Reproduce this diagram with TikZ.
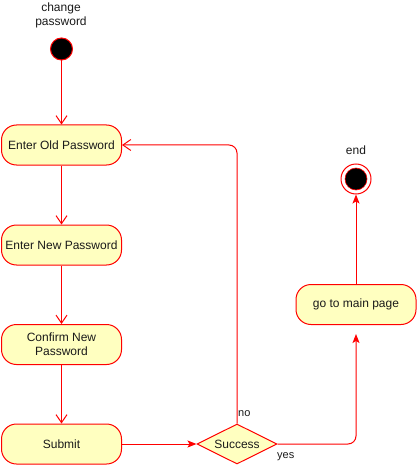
\documentclass[tikz,border=0pt]{standalone}
\usepackage{fontspec}
\setmainfont{Liberation Sans}
\usetikzlibrary{arrows.meta,shapes.geometric}
\definecolor{actfill}{HTML}{FFFFC0}
\definecolor{txt}{HTML}{1A1A1A}
\tikzset{
  act/.style={draw=red, fill=actfill, rounded corners=15pt, minimum width=120pt, minimum height=40pt, inner sep=2pt, align=center, font=\fontsize{12pt}{14pt}\selectfont, text=txt, line width=1pt},
  dec/.style={draw=red, fill=actfill, diamond, aspect=2, minimum width=80pt, minimum height=40pt, inner sep=0pt, font=\fontsize{12pt}{14pt}\selectfont, text=txt, line width=1pt},
  startdot/.style={circle, draw=red, fill=black, minimum size=22pt, inner sep=0pt, line width=1pt},
  lbl/.style={font=\fontsize{12pt}{14pt}\selectfont, text=txt, align=center, inner sep=0pt},
  sml/.style={font=\fontsize{11pt}{13pt}\selectfont, text=txt, inner sep=0pt},
  openflow/.style={draw=red, line width=1pt, -{Straight Barb[length=8pt,width=11pt]}},
  fillflow/.style={draw=red, line width=1pt, -{Stealth[length=9pt,width=7pt,inset=2pt]}},
}
\begin{document}
\begin{tikzpicture}[x=1pt,y=-1pt]
\useasboundingbox (0,0) rectangle (417,465);
\node[lbl] (title) at (61,15) {change\\password};
\node[startdot] (start) at (61.5,49) {};
\node[act] (old) at (61.5,145) {Enter Old Password};
\node[act] (new) at (61.5,245) {Enter New Password};
\node[act] (conf) at (61.5,344.5) {Confirm New\\Password};
\node[act] (sub) at (61.5,444) {Submit};
\node[dec] (succ) at (237,444) {Success};
\node[act] (main) at (356,304.5) {go to main page};
\node[circle, draw=red, fill=white, minimum size=30pt, inner sep=0pt, line width=1pt] (endo) at (356,179) {};
\node[circle, fill=black, draw=red, minimum size=22pt, inner sep=0pt, line width=0.6pt] (endi) at (356,179) {};
\node[lbl] (endlbl) at (356,150) {end};
\node[sml, anchor=west] (nol) at (238,414) {no};
\node[sml, anchor=west] (yesl) at (277,457) {yes};
\coordinate (yesend) at (356,334);

\draw[openflow] (start) -- (old);
\draw[openflow] (old) -- (new);
\draw[openflow] (new) -- (conf);
\draw[openflow] (conf) -- (sub);
\draw[fillflow] (sub) -- (succ);
\draw[openflow, rounded corners=8pt] (succ.north) |- (old.east);
\draw[fillflow, rounded corners=8pt] (succ.east) -| (yesend);
\draw[fillflow] (main) -- (endo);
\end{tikzpicture}
\end{document}
